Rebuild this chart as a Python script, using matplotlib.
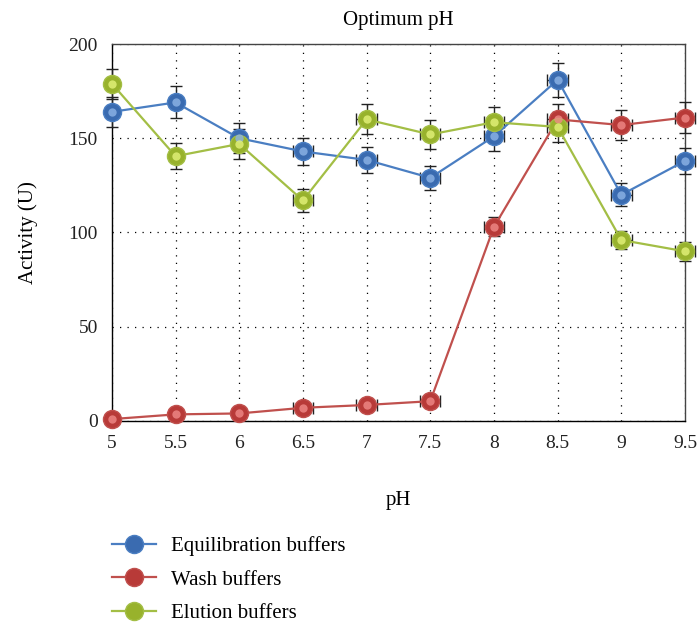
import numpy as np
import matplotlib.pyplot as plt

plt.rcParams['font.family'] = ['Liberation Serif', 'DejaVu Serif']

# pH values and measured activity
ph = [5, 5.5, 6, 6.5, 7, 7.5, 8, 8.5, 9, 9.5]
equil = [164, 169, 150, 143, 138.5, 129, 151, 181, 120, 138]
wash = [1, 3.5, 4, 7, 8.5, 10.5, 103, 160, 157, 161]
elution = [179, 140.5, 147, 117, 160, 152, 158.5, 156, 96, 90]

equil_err = [8, 8.5, 8, 7, 7, 6.5, 8, 9, 6, 7]
wash_err = [1, 1, 1, 1, 1.5, 1.5, 5, 8, 8, 8]
elution_err = [8, 7, 8, 6, 8, 7.5, 8, 8, 5, 5]
ph_err = [0, 0, 0.03, 0.08, 0.08, 0.08, 0.08, 0.08, 0.08, 0.08]

series = [
    ("Equilibration buffers", equil, equil_err, "#4A7EC2", "#3A6BB0", "#8DB4E6"),
    ("Wash buffers", wash, wash_err, "#C0504D", "#B83A38", "#F08A88"),
    ("Elution buffers", elution, elution_err, "#A3BE45", "#98B22C", "#E4F27A"),
]

fig = plt.figure(figsize=(6.99, 6.26), dpi=100)
ax = fig.add_axes([0.160, 0.3275, 0.820, 0.6022])

handles = []
for name, vals, err, lc, mc, hc in series:
    ax.errorbar(ph, vals, yerr=err, xerr=ph_err, fmt='none', ecolor='#222222',
                elinewidth=1, capsize=4, capthick=1, zorder=3, clip_on=False)
    h, = ax.plot(ph, vals, color=lc, lw=1.6, marker='o', ms=13,
                 mfc=mc, mec=lc, mew=1, zorder=4, label=name, clip_on=False)
    ax.plot(ph, vals, ls='none', marker='o', ms=6, mfc=hc, mec='none',
            alpha=0.8, zorder=5, clip_on=False)
    handles.append(h)

ax.set_xlim(5, 9.5)
ax.set_ylim(0, 200)
ax.set_xticks(ph)
ax.set_xticklabels(['5', '5.5', '6', '6.5', '7', '7.5', '8', '8.5', '9', '9.5'])
ax.set_yticks([0, 50, 100, 150, 200])
ax.tick_params(length=0, labelsize=14, pad=10, colors='#222222')
ax.grid(True, color='black', lw=0.9, ls=(0, (1, 5)))
for s in ax.spines.values():
    s.set_color('#444444')
    s.set_linewidth(1)
ax.spines['left'].set_color('black')
ax.spines['bottom'].set_color('black')

ax.set_title('Optimum pH', fontsize=15, pad=14)
ax.set_ylabel('Activity (U)', fontsize=15, labelpad=22)
ax.set_xlabel('pH', fontsize=15, labelpad=28)

fig.legend(handles=handles, loc='upper left', bbox_to_anchor=(0.148, 0.157),
           frameon=False, fontsize=15, handlelength=2.1, labelspacing=0.68,
           borderaxespad=0, handletextpad=0.75)

fig.savefig('out.png', dpi=100)
